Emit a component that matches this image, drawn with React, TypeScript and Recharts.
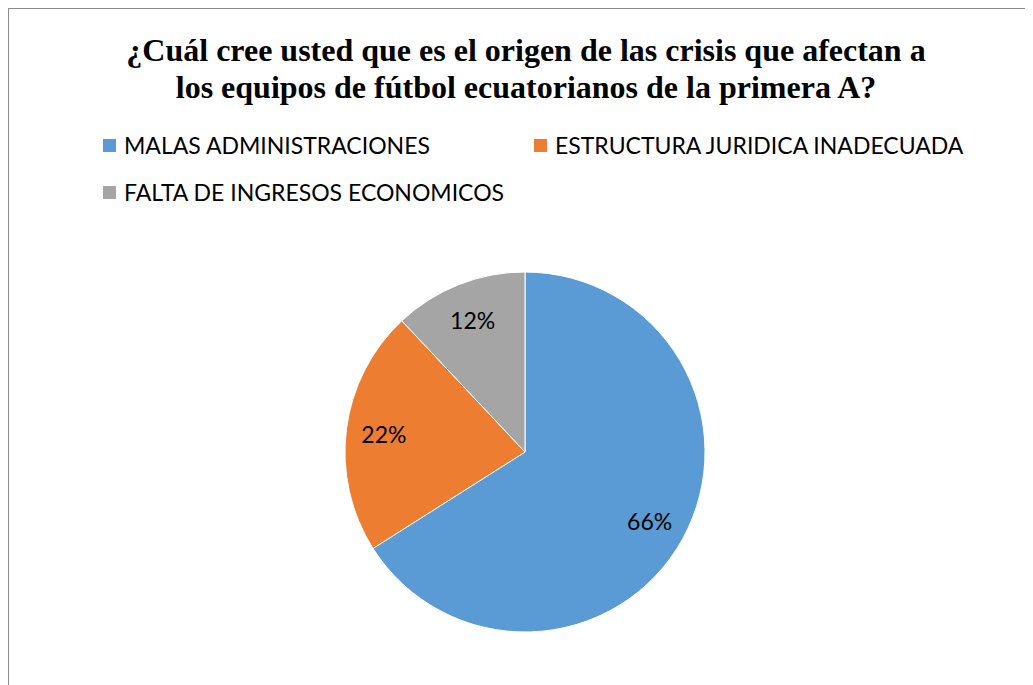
import React from "react";
import { PieChart, Pie, Cell } from "recharts";

const categories = ["MALAS ADMINISTRACIONES", "ESTRUCTURA JURIDICA INADECUADA", "FALTA DE INGRESOS ECONOMICOS"];
const values = [66, 22, 12];
const colors = ["#5B9BD5", "#ED7D31", "#A5A5A5"];
const titleLines = [
  "¿Cuál cree usted que es el origen de las crisis que afectan a",
  "los equipos de fútbol ecuatorianos de la primera A?",
];

const data = categories.map((name, i) => ({ name, value: values[i] }));

const FONT = "Lato, 'Open Sans', sans-serif";
const RAD = Math.PI / 180;

const renderLabel = (props: any) => {
  const { cx, cy, midAngle, outerRadius, value } = props;
  const r = outerRadius * 0.79;
  const x = cx + r * Math.cos(-midAngle * RAD);
  const y = cy + r * Math.sin(-midAngle * RAD);
  return (
    <text x={x} y={y} fill="#000" textAnchor="middle" dominantBaseline="central" fontFamily={FONT} fontSize={23}>
      {`${value}%`}
    </text>
  );
};

const legendPositions = [
  { left: 94, top: 123 },
  { left: 525, top: 123 },
  { left: 94, top: 170 },
];

export default function App() {
  return (
    <div
      style={{
        position: "relative",
        width: 1025,
        height: 677,
        borderTop: "1px solid #8c8c8c",
        borderLeft: "1px solid #8c8c8c",
        boxSizing: "border-box",
        background: "#fff",
      }}
    >
      <div
        style={{
          position: "absolute",
          left: 0,
          top: 23,
          width: 1034,
          textAlign: "center",
          fontFamily: "'Liberation Serif'",
          fontWeight: "bold",
          fontSize: 32,
          lineHeight: "37px",
          color: "#000",
        }}
      >
        {titleLines.map((t) => (
          <div key={t}>{t}</div>
        ))}
      </div>
      {categories.map((c, i) => (
        <div
          key={c}
          style={{
            position: "absolute",
            left: legendPositions[i].left,
            top: legendPositions[i].top,
            display: "flex",
            alignItems: "center",
            fontFamily: FONT,
            fontSize: 23,
            color: "#000",
            whiteSpace: "nowrap",
            lineHeight: "26px",
          }}
        >
          <span style={{ display: "inline-block", width: 13, height: 13, background: colors[i], marginRight: 8 }} />
          <span>{c}</span>
        </div>
      ))}
      <PieChart width={1024} height={676} margin={{ top: 0, right: 0, bottom: 0, left: 0 }} style={{ position: "absolute", left: 0, top: 0 }}>
        <Pie
          data={data}
          dataKey="value"
          nameKey="name"
          cx={516}
          cy={443}
          outerRadius={180}
          startAngle={90}
          endAngle={-270}
          stroke="#fff"
          strokeWidth={1}
          label={renderLabel}
          labelLine={false}
          isAnimationActive={false}
        >
          {data.map((d, i) => (
            <Cell key={d.name} fill={colors[i]} />
          ))}
        </Pie>
      </PieChart>
    </div>
  );
}
